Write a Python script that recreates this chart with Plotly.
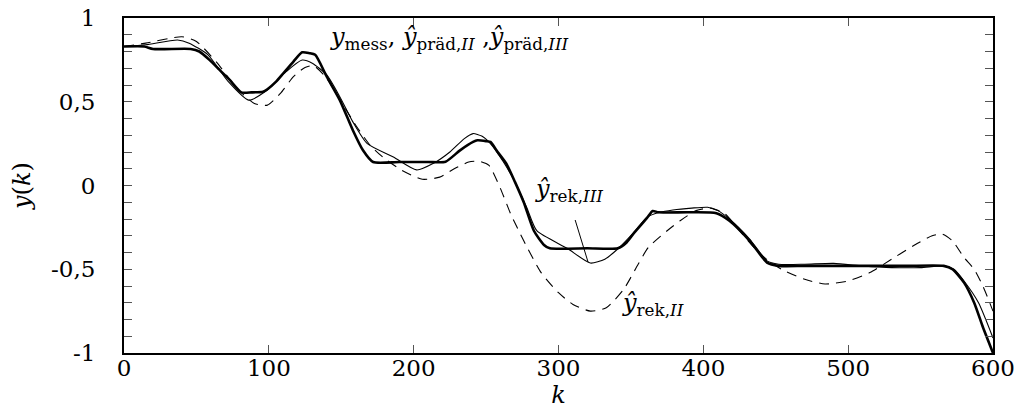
import plotly.graph_objects as go

# y_mess (thick)
k_mess = [0, 14, 20, 46, 52, 59, 66, 73, 81, 88, 96, 99, 105, 110, 117, 123, 128, 132, 140, 149,
          158, 165, 172, 190, 210, 222, 232, 241, 244, 250, 253, 258, 264, 270, 276, 283, 290, 294,
          320, 341, 347, 352, 361, 365, 369, 390, 409, 418, 432, 444, 452, 470, 500, 540, 566, 572,
          580, 587, 593, 600]
y_mess = [0.83, 0.83, 0.815, 0.815, 0.80, 0.75, 0.69, 0.63, 0.556, 0.556, 0.56, 0.575, 0.62, 0.67,
          0.74, 0.795, 0.79, 0.78, 0.65, 0.51, 0.33, 0.21, 0.14, 0.14, 0.14, 0.142, 0.21, 0.26, 0.27,
          0.265, 0.26, 0.20, 0.13, 0.02, -0.10, -0.27, -0.355, -0.375, -0.375, -0.375, -0.34, -0.285,
          -0.195, -0.152, -0.16, -0.16, -0.165, -0.21, -0.33, -0.46, -0.48, -0.48, -0.48, -0.48,
          -0.48, -0.50, -0.58, -0.70, -0.845, -1.0]

# y_rek,III (thin)
k_rek3 = [0, 15, 37, 45, 58, 72, 86, 99, 112, 123, 130, 140, 149, 158, 168, 186, 202, 214, 225,
          235, 241, 247, 253, 262, 270, 278, 285, 306, 322, 332, 342, 352, 361, 370, 379, 392, 403,
          410, 418, 432, 444, 452, 470, 490, 510, 530, 550, 566, 573, 580, 590, 600]
y_rek3 = [0.83, 0.84, 0.869, 0.85, 0.78, 0.62, 0.51, 0.57, 0.68, 0.749, 0.73, 0.66, 0.53, 0.38,
          0.25, 0.17, 0.093, 0.134, 0.20, 0.28, 0.31, 0.295, 0.25, 0.14, 0.02, -0.13, -0.27, -0.375,
          -0.463, -0.44, -0.37, -0.28, -0.19, -0.16, -0.146, -0.135, -0.13, -0.15, -0.20, -0.32,
          -0.45, -0.47, -0.47, -0.465, -0.48, -0.49, -0.49, -0.48, -0.50, -0.57, -0.70, -0.91]

# y_rek,II (dashed)
k_rek2 = [0, 15, 40, 50, 64, 78, 90, 99, 108, 117, 125, 131, 140, 150, 160, 170, 180, 192, 206,
          218, 228, 238, 245, 252, 260, 267, 276, 288, 300, 310, 322, 333, 345, 355, 362, 375, 384,
          395, 405, 415, 425, 435, 445, 455, 470, 484, 500, 515, 530, 545, 558, 565, 572, 580, 587,
          593, 600]
y_rek2 = [0.83, 0.85, 0.888, 0.86, 0.735, 0.58, 0.49, 0.48, 0.55, 0.65, 0.705, 0.715, 0.64, 0.50,
          0.36, 0.24, 0.16, 0.09, 0.037, 0.05, 0.10, 0.14, 0.145, 0.12, -0.02, -0.17, -0.33, -0.52,
          -0.64, -0.71, -0.75, -0.73, -0.62, -0.47, -0.37, -0.27, -0.21, -0.15, -0.135, -0.17, -0.27,
          -0.37, -0.45, -0.505, -0.56, -0.588, -0.57, -0.52, -0.44, -0.36, -0.30, -0.29, -0.33,
          -0.43, -0.50, -0.60, -0.75]

x_ticks = [0, 100, 200, 300, 400, 500, 600]
x_ticktext = ["0", "100", "200", "300", "400", "500", "600"]
y_ticks = [-1, -0.5, 0, 0.5, 1]
y_ticktext = ["-1", "-0,5", "0", "0,5", "1"]

FONT = "DejaVu Serif"

fig = go.Figure()
fig.add_trace(go.Scatter(x=k_rek2, y=y_rek2, mode="lines", line=dict(color="black", width=1.1, dash="10px,7px", shape="spline", smoothing=0.6)))
fig.add_trace(go.Scatter(x=k_rek3, y=y_rek3, mode="lines", line=dict(color="black", width=1.1, shape="spline", smoothing=0.6)))
fig.add_trace(go.Scatter(x=k_mess, y=y_mess, mode="lines", line=dict(color="black", width=2.6, shape="spline", smoothing=0.6)))

fig.add_annotation(x=141, y=0.875, xref="x", yref="y", xanchor="left", yanchor="middle", showarrow=False,
                   text="<i>y</i><sub>mess</sub>, <i>ŷ</i><sub>präd,<i>II</i></sub> ,<i>ŷ</i><sub>präd,<i>III</i></sub>",
                   font=dict(family=FONT, size=24, color="black"))
fig.add_annotation(x=282.5, y=-0.03, xref="x", yref="y", xanchor="left", yanchor="middle", showarrow=False,
                   text="<i>ŷ</i><sub>rek,<i>III</i></sub>", font=dict(family=FONT, size=24, color="black"))
fig.add_annotation(x=342.5, y=-0.713, xref="x", yref="y", xanchor="left", yanchor="middle", showarrow=False,
                   text="<i>ŷ</i><sub>rek,<i>II</i></sub>", font=dict(family=FONT, size=24, color="black"))
fig.add_shape(type="line", x0=311.5, y0=-0.206, x1=320.4, y1=-0.457, xref="x", yref="y",
              line=dict(color="black", width=1))

fig.update_layout(
    width=1018, height=411, showlegend=False,
    margin=dict(l=124, r=25, t=18, b=58, autoexpand=False),
    plot_bgcolor="white", paper_bgcolor="white",
    font=dict(family=FONT, size=23, color="black"),
)
fig.update_xaxes(range=[0, 600], tickvals=x_ticks, ticktext=x_ticktext, ticks="inside", ticklen=8,
                 tickcolor="#555", tickwidth=1, showline=True, linecolor="black", linewidth=2,
                 mirror="ticks", showgrid=False, zeroline=False, automargin=False, ticklabelstandoff=-7,
                 title=dict(text="<i>k</i>", standoff=0, font=dict(size=24)))
fig.update_yaxes(range=[-1, 1], tickvals=y_ticks, ticktext=y_ticktext, ticks="inside", ticklen=8,
                 tickcolor="#555", tickwidth=1, showline=True, linecolor="black", linewidth=2,
                 mirror="ticks", showgrid=False, zeroline=False, ticklabelstandoff=22, automargin=False,
                 minor=dict(dtick=0.1, ticks="inside", ticklen=8, tickcolor="#555", tickwidth=1),
                 title=dict(text="<i>y</i>(<i>k</i>)", standoff=14, font=dict(size=24)))

fig.write_html("out.html")
